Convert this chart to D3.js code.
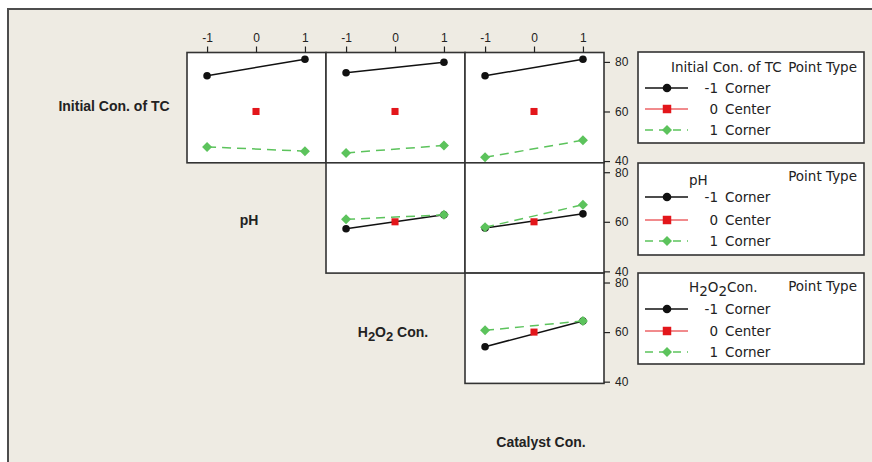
<!DOCTYPE html>
<html><head><meta charset="utf-8">
<script src="https://cdn.jsdelivr.net/npm/d3@7"></script>
<style>html,body{margin:0;padding:0;background:#fff;} svg{display:block}</style>
</head><body>
<svg id="chart" width="872" height="462"></svg>
<script>
// Interaction plot matrix for the response (factor levels -1 / 0 / 1)
const levelTicks = [-1, 0, 1];
const responseTicks = [40, 60, 80];
const legendLevels = ["-1", "0", "1"];
const legendPointTypes = ["Corner", "Center", "Corner"];

// Row factor at its low (-1) and high (1) level: mean response at x = -1 and x = 1
// of the column factor (columns: pH, H2O2 Con., Catalyst Con.)
const tcLow = [[74.4, 81.1], [75.6, 79.9], [74.4, 81.1]];
const tcHigh = [[45.7, 44.0], [43.3, 46.3], [41.5, 48.4]];
const phLow = [[57.2, 62.8], [57.5, 63.2]];
const phHigh = [[61.0, 62.8], [57.8, 66.9]];
const h2o2Low = [[54.1, 64.5]];
const h2o2High = [[60.7, 64.5]];
const centerValue = 60.0;

const COLORS = { low: "#111111", center: "#e3161b", high: "#5cc35c" };
const LABEL_FONT = "'Liberation Sans', Arial, sans-serif";
const LEGEND_FONT = "'DejaVu Sans', Verdana, sans-serif";

const svg = d3.select("#chart");

// outer frame
svg.append("rect").attr("x", 8).attr("y", 9).attr("width", 900).attr("height", 500)
  .attr("fill", "#eeebe3").attr("stroke", "#4d4d4d").attr("stroke-width", 2);

const gridLeft = 187, gridTop = 52.5, cellW = 139, cellH = 110.3;
const x = d3.scaleLinear().domain([-1.41, 1.43]).range([0, cellW]);
const y = d3.scaleLinear().domain([39.3, 83.8]).range([cellH, 0]);

const rows = [
  { low: tcLow, high: tcHigh, startCol: 0 },
  { low: phLow, high: phHigh, startCol: 1 },
  { low: h2o2Low, high: h2o2High, startCol: 2 }
];

const line = d3.line().x(d => x(d[0])).y(d => y(d[1]));
const circle = d3.symbol().type(d3.symbolCircle);
const square = d3.symbol().type(d3.symbolSquare);

function drawMarkers(g, kind, pts) {
  pts.forEach(p => {
    const t = `translate(${x(p[0])},${y(p[1])})`;
    if (kind === "low") {
      g.append("path").attr("d", circle.size(45)()).attr("transform", t).attr("fill", COLORS.low);
    } else if (kind === "center") {
      g.append("path").attr("d", square.size(50)()).attr("transform", t).attr("fill", COLORS.center);
    } else {
      g.append("path").attr("d", square.size(50)()).attr("transform", t + " rotate(45)").attr("fill", COLORS.high);
    }
  });
}

rows.forEach((row, r) => {
  row.low.forEach((lowVals, i) => {
    const c = row.startCol + i;
    const g = svg.append("g").attr("transform", `translate(${gridLeft + c * cellW},${gridTop + r * cellH})`);
    g.append("rect").attr("width", cellW).attr("height", cellH).attr("fill", "#fff");
    const lowPts = [[-1, lowVals[0]], [1, lowVals[1]]];
    const highPts = [[-1, row.high[i][0]], [1, row.high[i][1]]];
    g.append("path").attr("d", line(lowPts)).attr("fill", "none")
      .attr("stroke", COLORS.low).attr("stroke-width", 1.5);
    g.append("path").attr("d", line(highPts)).attr("fill", "none")
      .attr("stroke", COLORS.high).attr("stroke-width", 1.5).attr("stroke-dasharray", "9,6");
    drawMarkers(g, "low", lowPts);
    drawMarkers(g, "center", [[0, centerValue]]);
    drawMarkers(g, "high", highPts);
    g.append("rect").attr("width", cellW).attr("height", cellH).attr("fill", "none")
      .attr("stroke", "#333").attr("stroke-width", 1.6);
  });
});

// top axes (one per column)
for (let c = 0; c < 3; c++) {
  const ax = svg.append("g").attr("transform", `translate(${gridLeft + c * cellW},${gridTop})`)
    .call(d3.axisTop(x).tickValues(levelTicks).tickSize(6).tickPadding(5).tickFormat(d => String(d)));
  ax.select(".domain").remove();
}
// right axes (one per row)
for (let r = 0; r < 3; r++) {
  const ax = svg.append("g").attr("transform", `translate(${gridLeft + 3 * cellW},${gridTop + r * cellH})`)
    .call(d3.axisRight(y).tickValues(responseTicks).tickSize(6).tickPadding(5));
  ax.select(".domain").remove();
}
svg.selectAll(".tick line").attr("stroke", "#222").attr("stroke-width", 1.2);
svg.selectAll(".tick text").attr("font-family", LABEL_FONT).attr("font-size", 12).attr("fill", "#222");

// factor names on the diagonal
function factorLabel(parts, cx, baseline) {
  const t = svg.append("text").attr("x", cx).attr("y", baseline).attr("text-anchor", "middle")
    .attr("font-family", LABEL_FONT).attr("font-weight", "bold").attr("font-size", 14).attr("fill", "#222");
  parts.forEach(p => {
    const ts = t.append("tspan").text(p.text);
    if (p.sub) ts.attr("dy", 4).attr("font-size", 13);
    if (p.back) ts.attr("dy", -4);
  });
  return t;
}
factorLabel([{ text: "Initial Con. of TC" }], 114, 111);
factorLabel([{ text: "pH" }], 249, 225);
factorLabel([{ text: "H" }, { text: "2", sub: true }, { text: "O", back: true }, { text: "2", sub: true }, { text: " Con.", back: true }], 393, 337);
factorLabel([{ text: "Catalyst Con." }], 541, 447);

// legends
const legendX = 638, legendW = 226;
function drawLegend(cfg) {
  const g = svg.append("g").attr("transform", `translate(${legendX},${cfg.top})`);
  g.append("rect").attr("width", legendW).attr("height", cfg.height)
    .attr("fill", "#fff").attr("stroke", "#333").attr("stroke-width", 1.6);
  const title = g.append("text").attr("x", cfg.titleX).attr("y", cfg.titleY)
    .attr("font-family", LEGEND_FONT).attr("font-size", 13.5).attr("fill", "#222");
  cfg.title.forEach(p => {
    const ts = title.append("tspan").text(p.text);
    if (p.sub) ts.attr("dy", 4);
    if (p.back) ts.attr("dy", -4);
  });
  g.append("text").attr("x", 219).attr("y", cfg.ptY).attr("text-anchor", "end")
    .attr("font-family", LEGEND_FONT).attr("font-size", 13.5).attr("fill", "#222").text("Point Type");
  const kinds = ["low", "center", "high"];
  kinds.forEach((k, i) => {
    const ly = cfg.rowY[i];
    g.append("line").attr("x1", 7).attr("x2", 50).attr("y1", ly).attr("y2", ly)
      .attr("stroke", COLORS[k]).attr("stroke-width", k === "center" ? 1 : 1.5)
      .attr("stroke-dasharray", k === "high" ? "8,6" : null);
    const t = `translate(29,${ly})`;
    if (k === "low") g.append("path").attr("d", circle.size(58)()).attr("transform", t).attr("fill", COLORS.low);
    else if (k === "center") g.append("path").attr("d", square.size(72)()).attr("transform", t).attr("fill", COLORS.center);
    else g.append("path").attr("d", square.size(50)()).attr("transform", t + " rotate(45)").attr("fill", COLORS.high);
    g.append("text").attr("x", 80).attr("y", ly + 5).attr("text-anchor", "end")
      .attr("font-family", LEGEND_FONT).attr("font-size", 13.5).attr("fill", "#222").text(legendLevels[i]);
    g.append("text").attr("x", 87).attr("y", ly + 5)
      .attr("font-family", LEGEND_FONT).attr("font-size", 13.5).attr("fill", "#222").text(legendPointTypes[i]);
  });
}
drawLegend({ top: 52, height: 91, title: [{ text: "Initial Con. of TC" }], titleX: 33, titleY: 20, ptY: 20, rowY: [36, 57, 78] });
drawLegend({ top: 163, height: 92, title: [{ text: "pH" }], titleX: 51, titleY: 22, ptY: 18, rowY: [34, 57, 78] });
drawLegend({ top: 273, height: 91,
  title: [{ text: "H" }, { text: "2", sub: true }, { text: "O", back: true }, { text: "2", sub: true }, { text: "Con.", back: true }],
  titleX: 51, titleY: 19, ptY: 18, rowY: [36, 58, 79] });
</script>
</body></html>
